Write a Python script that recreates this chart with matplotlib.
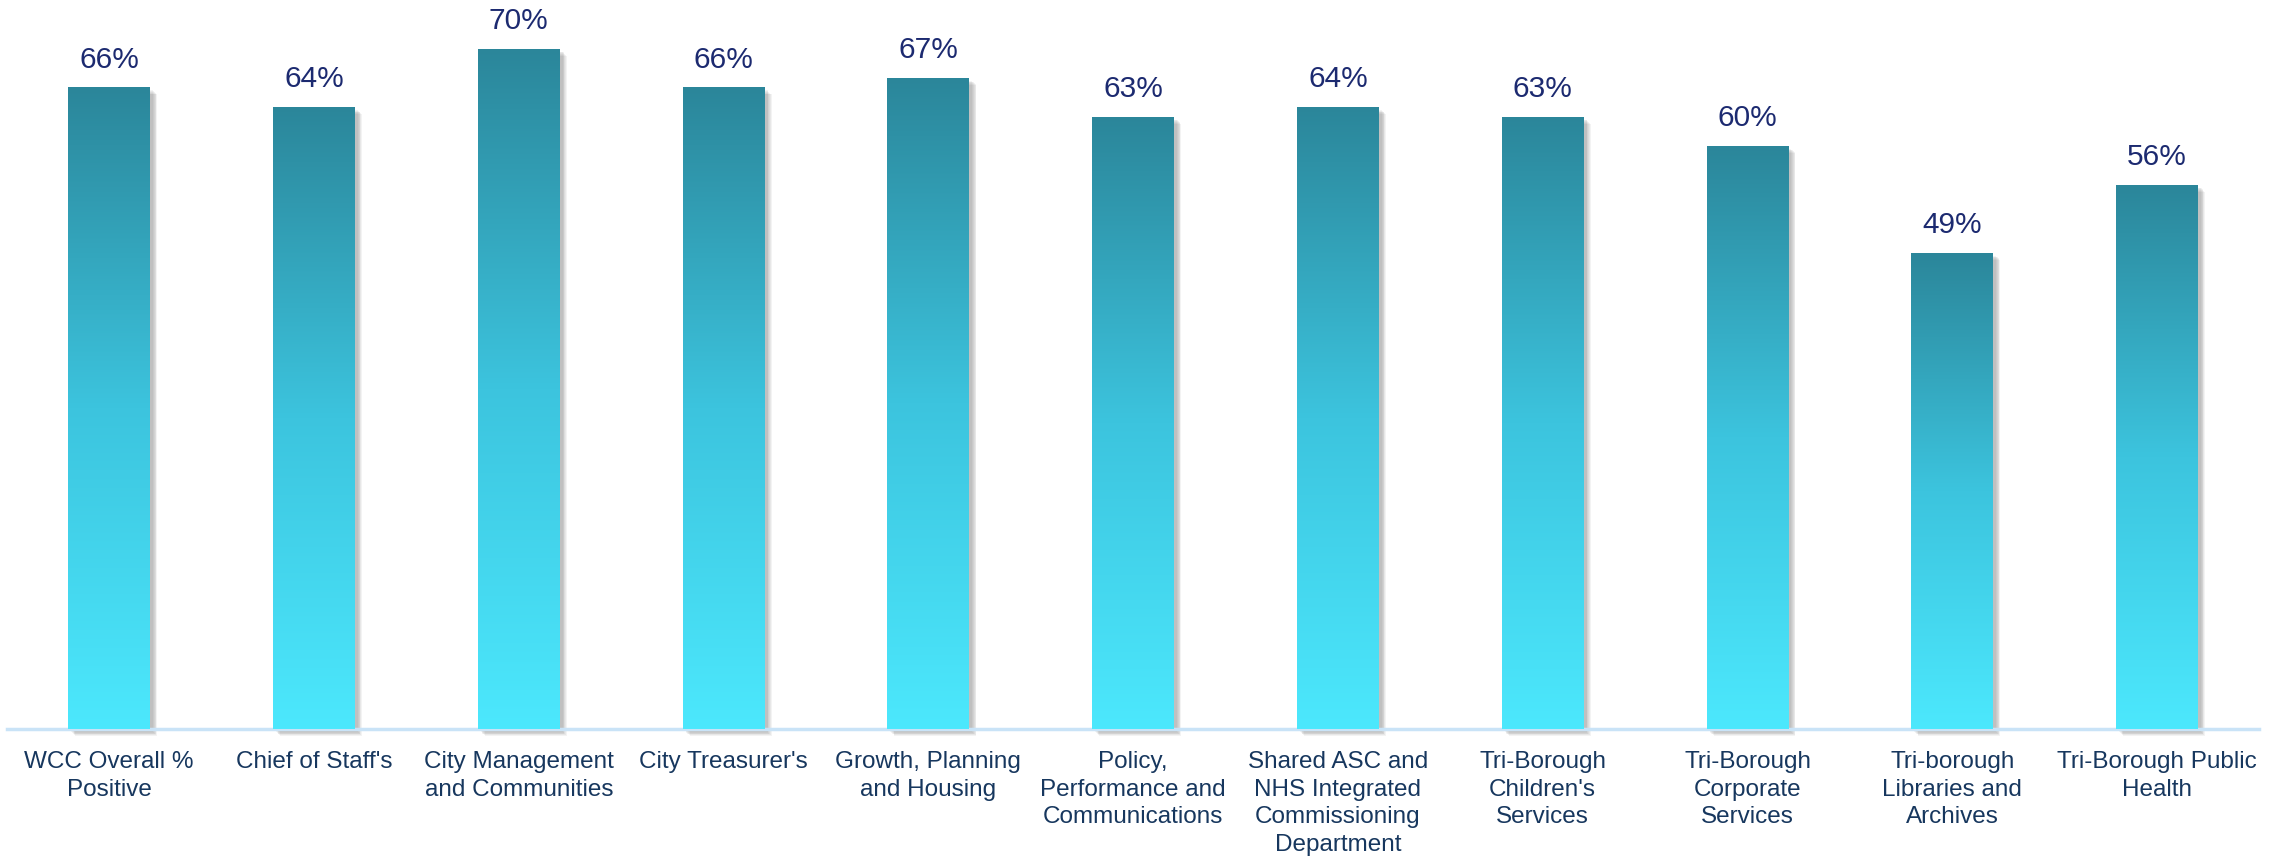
import matplotlib
matplotlib.use("Agg")
import matplotlib.pyplot as plt
import matplotlib.transforms as mtransforms
from matplotlib.colors import LinearSegmentedColormap
from matplotlib.patches import Rectangle
import numpy as np

plt.rcParams["font.family"] = ["Liberation Sans", "DejaVu Sans"]

departments = [
    "WCC Overall %\nPositive",
    "Chief of Staff's",
    "City Management\nand Communities",
    "City Treasurer's",
    "Growth, Planning\nand Housing",
    "Policy,\nPerformance and\nCommunications",
    "Shared ASC and\nNHS Integrated\nCommissioning\nDepartment",
    "Tri-Borough\nChildren's\nServices",
    "Tri-Borough\nCorporate\nServices",
    "Tri-borough\nLibraries and\nArchives",
    "Tri-Borough Public\nHealth",
]
positive = [66, 64, 70, 66, 67, 63, 64, 63, 60, 49, 56]

BAR_CMAP = LinearSegmentedColormap.from_list(
    "teal", ["#4CE8FD", "#3CC4DE", "#2B869A"])
VALUE_COLOR = "#1C2A70"
TICK_COLOR = "#17375E"

fig = plt.figure(figsize=(22.8, 8.57), dpi=100)
ax = fig.add_axes([0.003, 0.1494, 0.988, 0.8506])

x = np.arange(len(departments))
bars = ax.bar(x, positive, width=0.40, color="none", zorder=3)

ax.set_xlim(-0.5, len(departments) - 0.5)
ax.set_ylim(0, 75)

grad = np.linspace(0, 1, 256).reshape(-1, 1)
for b, v in zip(bars, positive):
    x0, w, h = b.get_x(), b.get_width(), b.get_height()
    # soft drop shadow, offset to the lower right
    for k in range(6):
        off = mtransforms.offset_copy(ax.transData, fig=fig,
                                      x=3 + k * 0.8, y=-3 - k * 0.8,
                                      units="dots")
        ax.add_patch(Rectangle((x0, 0), w, h, transform=off,
                               facecolor="#555555", alpha=0.07,
                               edgecolor="none", zorder=1, clip_on=False))
    im = ax.imshow(grad, cmap=BAR_CMAP, origin="lower", aspect="auto",
                   extent=(x0, x0 + w, 0, h), zorder=3)
    im.set_clip_path(b)
    ax.annotate(f"{v}%", (x0 + w / 2, h), xytext=(0, 10),
                textcoords="offset points", ha="center", va="bottom",
                fontsize=21.5, color=VALUE_COLOR, zorder=5)

for s in ["top", "right", "left"]:
    ax.spines[s].set_visible(False)
ax.spines["bottom"].set_color("#C9E3F7")
ax.spines["bottom"].set_linewidth(2.5)
ax.spines["bottom"].set_zorder(2)

ax.set_yticks([])
ax.set_xticks(x)
ax.set_xticklabels(departments, fontsize=17.5, color=TICK_COLOR,
                   linespacing=1.32, va="top")
ax.tick_params(axis="x", length=0, pad=16)

fig.savefig("out.png", dpi=100)
